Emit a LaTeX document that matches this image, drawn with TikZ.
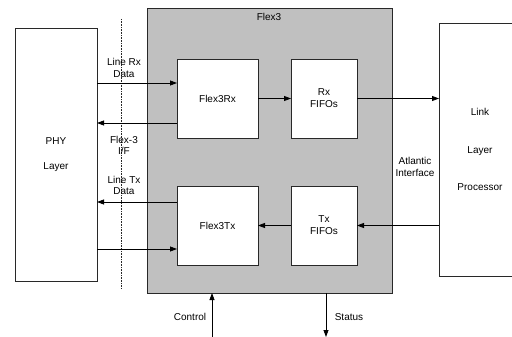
\documentclass[tikz,border=0pt]{standalone}
\usepackage{fontspec}
\setmainfont{Liberation Sans}
\usetikzlibrary{arrows.meta}
\definecolor{boxgray}{RGB}{192,192,192}
\definecolor{edge}{RGB}{40,40,40}
\tikzset{
  blk/.style={draw=edge, line width=0.8pt, fill=white, outer sep=0pt, inner sep=0pt, align=center},
  lbl/.style={inner sep=0pt, align=center},
  arr/.style={draw=black, line width=0.8pt, -{Triangle[length=7pt,width=5pt]}},
}
\begin{document}
\begin{tikzpicture}[x=1pt,y=-1pt,font=\fontsize{10}{11.8}\selectfont]
\useasboundingbox (0,0) rectangle (512,337);
% gray Flex3 container
\node[blk, fill=boxgray, minimum width=245, minimum height=285] (flex) at (269.5,150.5) {};
\node[lbl] (flexlbl) at (269,17) {Flex3};
% PHY
\node[blk, minimum width=82, minimum height=253] (phy) at (56,154.5) {PHY\\[13pt]Layer};
% Link layer processor (extends past right edge)
\node[blk, minimum width=82, minimum height=253] (link) at (480,149.5) {Link\\[26pt]Layer\\[26pt]Processor};
% inner blocks
\node[blk, minimum width=81, minimum height=79] (frx) at (217.5,98.5) {Flex3Rx};
\node[blk, minimum width=66, minimum height=79] (rxf) at (324,98.5) {Rx\\FIFOs};
\node[blk, minimum width=81, minimum height=79] (ftx) at (217.5,225.5) {Flex3Tx};
\node[blk, minimum width=66, minimum height=79] (txf) at (324,225.5) {Tx\\FIFOs};
% dotted interface line
\coordinate (dtop) at (121,19);
\coordinate (dbot) at (121,288);
\draw[dash pattern=on 0.8pt off 0.8pt, line width=0.7pt, edge] (dtop) -- (dbot);
% labels
\node[lbl] (l1) at (124,68) {Line Rx\\Data};
\node[lbl] (l2) at (124,145.5) {Flex-3\\I/F};
\node[lbl] (l3) at (124,185.5) {Line Tx\\Data};
\node[lbl] (l4) at (415,167) {Atlantic\\Interface};
\node[lbl] (l5) at (190,317) {Control};
\node[lbl] (l6) at (349,317) {Status};
% PHY <-> Flex3Rx / Flex3Tx
\draw[arr] (phy.east |- 0,83) -- (frx.west |- 0,83);
\draw[arr] (frx.west |- 0,123) -- (phy.east |- 0,123);
\draw[arr] (ftx.west |- 0,202) -- (phy.east |- 0,202);
\draw[arr] (phy.east |- 0,249) -- (ftx.west |- 0,249);
% datapath
\draw[arr] (frx.east) -- (rxf.west);
\draw[arr] (rxf.east) -- (link.west |- rxf.east);
\draw[arr] (link.west |- txf.east) -- (txf.east);
\draw[arr] (txf.west) -- (ftx.east);
% control / status
\coordinate (cin) at (212,337);
\coordinate (sout) at (326,337);
\draw[arr] (cin) -- (flex.south -| cin);
\draw[arr] (flex.south -| sout) -- (sout);
\end{tikzpicture}
\end{document}
